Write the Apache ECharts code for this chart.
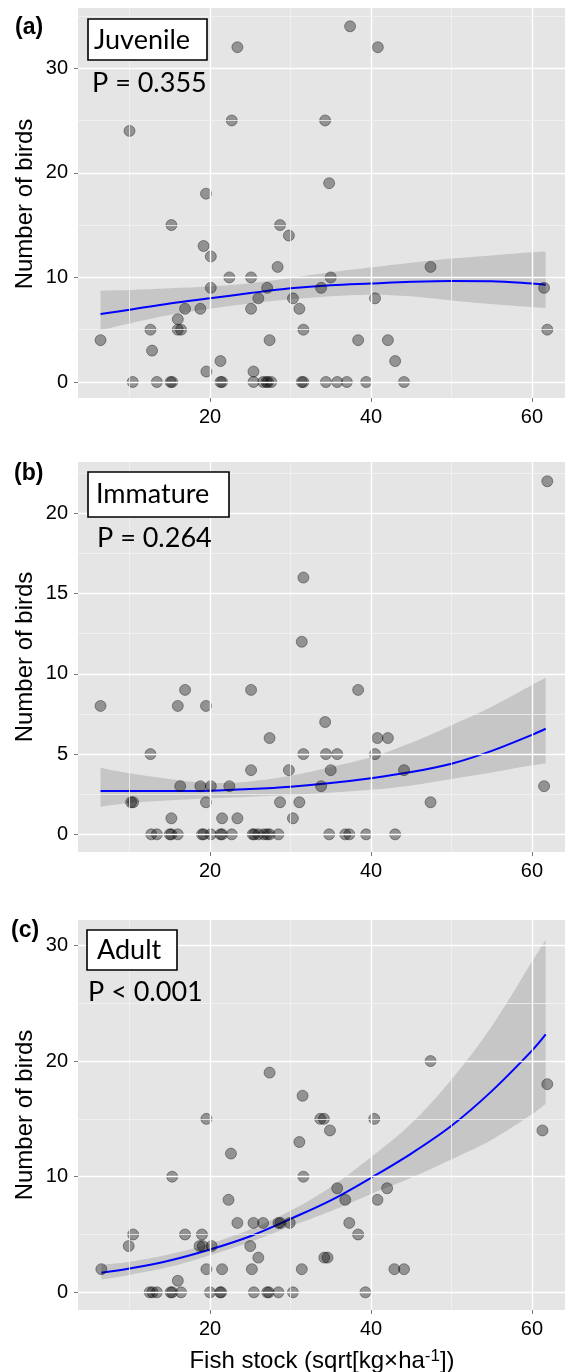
<!DOCTYPE html>
<html>
<head>
<meta charset="utf-8">
<script src="https://cdn.jsdelivr.net/npm/echarts@6/dist/echarts.min.js"></script>
<style>
  html, body { margin: 0; padding: 0; background: #fff; }
  #main { width: 565px; height: 1372px; }
</style>
</head>
<body>
<div id="main"></div>
<script>
// tick values
var xTicks = [20, 40, 60];
var xMinor = [10, 30, 50];
var yTicksA = [0, 10, 20, 30];
var yMinorA = [5, 15, 25, 35];
var yTicksB = [0, 5, 10, 15, 20];
var yMinorB = [2.5, 7.5, 12.5, 17.5, 22.5];
var yTicksC = [0, 10, 20, 30];
var yMinorC = [5, 15, 25];

// (a) juvenile: [fish stock, birds]
var juvenile = [
  [6.4, 4], [10.0, 24], [10.4, 0], [12.6, 5], [12.8, 3], [13.4, 0], [15.2, 15], [15.1, 0], [15.3, 0],
  [16.0, 6], [16.0, 5], [16.4, 5], [16.9, 7], [18.8, 7], [19.2, 13], [19.5, 18], [19.55, 1], [20.1, 12],
  [20.1, 9], [21.3, 2], [21.3, 0], [21.5, 0], [22.4, 10], [22.7, 25], [23.4, 32], [25.1, 10], [25.1, 7],
  [25.4, 1], [25.4, 0], [26.0, 8], [26.6, 0], [27.0, 0], [27.2, 0], [27.1, 9], [27.4, 4], [27.6, 0],
  [28.4, 11], [28.7, 15], [29.8, 14], [30.3, 8], [31.1, 7], [31.6, 5], [31.4, 0], [31.6, 0], [33.8, 9],
  [34.3, 25], [34.4, 0], [34.8, 19], [35.0, 10], [35.8, 0], [37.0, 0], [37.4, 34], [38.4, 4], [39.4, 0],
  [40.5, 8], [40.85, 32], [42.1, 4], [43.0, 2], [44.1, 0], [47.4, 11], [61.5, 9], [61.9, 5]
];
// (b) immature
var immature = [
  [6.4, 8], [10.2, 2], [10.45, 2], [12.6, 5], [12.7, 0], [13.4, 0], [15.2, 1], [15.0, 0], [15.2, 0],
  [16.0, 0], [16.0, 8], [16.3, 3], [16.9, 9], [18.8, 3], [19.0, 0], [19.2, 0], [19.5, 8], [19.5, 2],
  [20.1, 3], [20.1, 0], [21.3, 0], [21.5, 0], [21.5, 1], [22.4, 3], [22.7, 0], [23.4, 1], [25.1, 9],
  [25.1, 4], [25.3, 0], [25.5, 0], [26.0, 0], [26.7, 0], [27.1, 0], [27.4, 0], [27.4, 6], [28.5, 0],
  [28.7, 2], [29.8, 4], [30.3, 1], [31.1, 2], [31.6, 5], [31.6, 16], [31.4, 12], [33.8, 3], [34.3, 7],
  [34.4, 5], [34.8, 0], [35.0, 4], [35.8, 5], [36.8, 0], [37.3, 0], [38.4, 9], [39.4, 0], [40.5, 5],
  [40.8, 6], [42.1, 6], [43.0, 0], [44.1, 4], [47.4, 2], [61.5, 3], [61.9, 22]
];
// (c) adult
var adult = [
  [6.5, 2], [9.9, 4], [10.45, 5], [12.5, 0], [12.85, 0], [13.4, 0], [15.1, 0], [15.3, 0], [15.3, 10],
  [16.0, 1], [16.4, 0], [16.9, 5], [18.7, 4], [19.1, 4], [19.0, 5], [19.55, 2], [19.55, 15], [20.2, 4],
  [20.0, 0], [21.25, 0], [21.4, 0], [21.5, 2], [22.3, 8], [22.6, 12], [23.4, 6], [25.0, 4], [25.2, 2],
  [25.4, 6], [25.45, 0], [26.0, 3], [26.6, 6], [27.1, 0], [27.3, 0], [27.4, 19], [28.5, 0], [28.5, 6],
  [28.75, 6], [29.9, 6], [30.3, 0], [31.1, 13], [31.5, 17], [31.6, 10], [31.4, 2], [33.7, 15], [34.15, 15],
  [34.2, 3], [34.6, 3], [34.9, 14], [35.8, 9], [36.8, 8], [37.3, 6], [38.4, 5], [39.3, 0], [40.4, 15],
  [40.8, 8], [42.0, 9], [42.9, 2], [44.1, 2], [47.4, 20], [61.3, 14], [61.9, 18]
];

// fitted curves and confidence bands
var juvFitX = [6.4, 10, 15, 20, 25, 30, 35, 40, 45, 50, 55, 60, 61.7];
var juvFit = [6.5, 6.9, 7.5, 8.0, 8.5, 8.95, 9.25, 9.42, 9.58, 9.66, 9.64, 9.42, 9.3];
var juvUpper = [8.75, 8.8, 8.95, 9.15, 9.45, 9.95, 10.5, 10.95, 11.4, 11.8, 12.1, 12.4, 12.45];
var juvLower = [4.95, 5.6, 6.4, 7.0, 7.5, 7.9, 8.2, 8.35, 8.2, 7.8, 7.45, 7.15, 7.09];

var immFitX = [6.4, 10, 15, 20, 25, 30, 35, 40, 45, 50, 55, 60, 61.7];
var immFit = [2.7, 2.7, 2.7, 2.72, 2.82, 2.97, 3.2, 3.5, 3.88, 4.4, 5.2, 6.2, 6.58];
var immUpper = [4.15, 3.8, 3.45, 3.2, 3.3, 3.65, 4.2, 4.8, 5.7, 6.8, 7.95, 9.3, 9.75];
var immLower = [1.72, 1.95, 2.12, 2.25, 2.35, 2.45, 2.6, 2.78, 3.05, 3.45, 3.85, 4.3, 4.42];

var adultFitX = [6.5, 10, 15, 20, 25, 30, 35, 40, 45, 50, 55, 60, 61.7];
var adultFit = [1.7, 2.05, 2.75, 3.7, 4.85, 6.35, 7.95, 9.9, 12.0, 14.4, 17.4, 20.9, 22.3];
var adultUpper = [2.4, 2.65, 3.3, 4.2, 5.45, 7.05, 9.1, 11.7, 14.6, 18.4, 23.0, 28.6, 30.5];
var adultLower = [1.1, 1.5, 2.2, 3.2, 4.35, 5.7, 7.0, 8.5, 9.9, 11.5, 13.2, 15.4, 16.3];

var panels = [
  { top: 8, ymin: -1.53, ymax: 35.75, yTicks: yTicksA, yMinor: yMinorA, pts: juvenile,
    fx: juvFitX, fit: juvFit, hi: juvUpper, lo: juvLower },
  { top: 462, ymin: -1.1, ymax: 23.2, yTicks: yTicksB, yMinor: yMinorB, pts: immature,
    fx: immFitX, fit: immFit, hi: immUpper, lo: immLower },
  { top: 920, ymin: -1.53, ymax: 32.2, yTicks: yTicksC, yMinor: yMinorC, pts: adult,
    fx: adultFitX, fit: adultFit, hi: adultUpper, lo: adultLower }
];

var FONT = 'Liberation Sans, Arial, sans-serif';
var grids = [], xAxes = [], yAxes = [], series = [];

panels.forEach(function (p, i) {
  grids.push({
    left: 78, right: 0, top: p.top, height: 390,
    show: true, backgroundColor: '#E5E5E5', borderWidth: 0
  });
  xAxes.push({
    type: 'value', gridIndex: i, min: 3.6, max: 64.1,
    splitLine: { show: false }, axisLine: { show: false, onZero: false },
    axisTick: { show: true, customValues: xTicks, length: 4, lineStyle: { color: '#777', width: 1 } },
    axisLabel: { customValues: xTicks, fontSize: 20, color: '#000', margin: 9, fontFamily: FONT }
  });
  yAxes.push({
    type: 'value', gridIndex: i, min: p.ymin, max: p.ymax,
    splitLine: { show: false }, axisLine: { show: false, onZero: false },
    axisTick: { show: true, customValues: p.yTicks, length: 4, lineStyle: { color: '#777', width: 1 } },
    axisLabel: { customValues: p.yTicks, fontSize: 20, color: '#000', margin: 10, fontFamily: FONT }
  });

  // panel grid lines
  var lines = [];
  xMinor.forEach(function (v) { lines.push({ xAxis: v, lineStyle: { color: '#F3F3F3', width: 0.8, type: 'solid' } }); });
  xTicks.forEach(function (v) { lines.push({ xAxis: v, lineStyle: { color: '#FFFFFF', width: 1.4, type: 'solid' } }); });
  p.yMinor.forEach(function (v) { lines.push({ yAxis: v, lineStyle: { color: '#F3F3F3', width: 0.8, type: 'solid' } }); });
  p.yTicks.forEach(function (v) { lines.push({ yAxis: v, lineStyle: { color: '#FFFFFF', width: 1.4, type: 'solid' } }); });
  series.push({
    type: 'line', xAxisIndex: i, yAxisIndex: i, data: [], z: 1, silent: true,
    markLine: { silent: true, symbol: 'none', label: { show: false }, animation: false, data: lines }
  });

  // confidence band
  series.push({
    type: 'custom', xAxisIndex: i, yAxisIndex: i, z: 2, silent: true,
    data: [[p.fx[0], p.lo[0]]],
    renderItem: function (params, api) {
      var upper = [], lower = [];
      for (var k = 0; k < p.fx.length; k++) {
        upper.push(api.coord([p.fx[k], p.hi[k]]));
        lower.push(api.coord([p.fx[k], p.lo[k]]));
      }
      // smooth each edge on its own, then join them with straight ends
      var d = 'M' + upper[0][0] + ',' + upper[0][1];
      d += curve(upper);
      var rl = lower.slice().reverse();
      d += 'L' + rl[0][0] + ',' + rl[0][1];
      d += curve(rl);
      d += 'Z';
      return {
        type: 'path',
        shape: { pathData: d, layout: 'cover' },
        style: { fill: 'rgba(153,153,153,0.4)', stroke: null }
      };
    }
  });

  // fitted line
  series.push({
    type: 'line', xAxisIndex: i, yAxisIndex: i, z: 3, smooth: 0.35, showSymbol: false, silent: true,
    data: p.fx.map(function (x, k) { return [x, p.fit[k]]; }),
    lineStyle: { color: '#0000FF', width: 2 }
  });

  // observations
  series.push({
    type: 'scatter', xAxisIndex: i, yAxisIndex: i, z: 4, symbolSize: 11,
    data: p.pts,
    itemStyle: { color: 'rgba(0,0,0,0.36)', borderColor: 'rgba(0,0,0,0.45)', borderWidth: 0.8, opacity: 1 }
  });
});

// cardinal-style bezier through pixel points (edge of the band)
function curve(pts) {
  var s = '', t = 0.18;
  for (var k = 0; k < pts.length - 1; k++) {
    var p0 = pts[k > 0 ? k - 1 : k], p1 = pts[k], p2 = pts[k + 1], p3 = pts[k + 2 < pts.length ? k + 2 : k + 1];
    var c1x = p1[0] + (p2[0] - p0[0]) * t, c1y = p1[1] + (p2[1] - p0[1]) * t;
    var c2x = p2[0] - (p3[0] - p1[0]) * t, c2y = p2[1] - (p3[1] - p1[1]) * t;
    s += 'C' + c1x + ',' + c1y + ',' + c2x + ',' + c2y + ',' + p2[0] + ',' + p2[1];
  }
  return s;
}

function label(x, y, text, size, weight, family, align) {
  return {
    type: 'text', x: x, y: y, z: 10,
    style: { text: text, fontSize: size, fontWeight: weight || 'normal', fontFamily: family || FONT,
      fill: '#000', align: align || 'left', verticalAlign: 'middle' }
  };
}
function box(x, y, w, h) {
  return { type: 'rect', z: 9, shape: { x: x, y: y, width: w, height: h },
    style: { fill: '#fff', stroke: '#000', lineWidth: 1.6 } };
}
var NOTE = 'Lato, Open Sans, sans-serif';

var graphics = [
  label(15, 28, '(a)', 23, 'bold'),
  label(14, 474, '(b)', 23, 'bold'),
  label(11, 931, '(c)', 23, 'bold'),
  box(88, 19, 119, 41), label(94, 40, 'Juvenile', 27, 'normal', NOTE),
  label(92, 83, 'P = 0.355', 27, 'normal', NOTE),
  box(88, 472, 141, 45), label(96, 494, 'Immature', 27, 'normal', NOTE),
  label(97, 538, 'P = 0.264', 27, 'normal', NOTE),
  box(87, 930, 90, 40), label(97, 950, 'Adult', 27, 'normal', NOTE),
  label(88, 992, 'P < 0.001', 27, 'normal', NOTE)
];
[204, 657, 1115].forEach(function (cy) {
  var t = label(25, cy, 'Number of birds', 24, 'normal', FONT, 'center');
  t.rotation = Math.PI / 2;
  graphics.push(t);
});
graphics.push({
  type: 'text', x: 322, y: 1361, z: 10,
  style: {
    text: '{n|Fish stock (sqrt[kg×ha}{s|-1}{n|])}', align: 'center', verticalAlign: 'middle',
    rich: {
      n: { fontSize: 24, fontFamily: FONT, fill: '#000' },
      s: { fontSize: 17, fontFamily: FONT, fill: '#000', verticalAlign: 'top', padding: [0, 0, 10, 0] }
    }
  }
});

var chart = echarts.init(document.getElementById('main'), null, { renderer: 'canvas' });
chart.setOption({
  animation: false,
  backgroundColor: '#ffffff',
  grid: grids,
  xAxis: xAxes,
  yAxis: yAxes,
  series: series,
  graphic: graphics
});
</script>
</body>
</html>
